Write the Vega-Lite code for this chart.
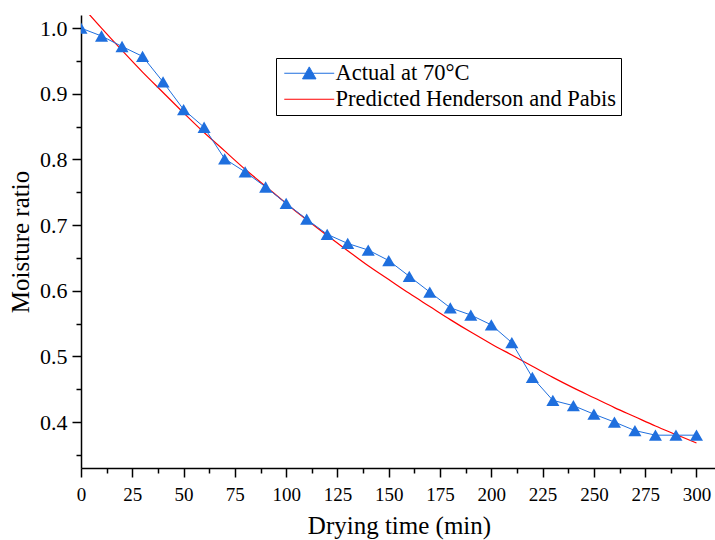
{
  "$schema": "https://vega.github.io/schema/vega-lite/v6.json",
  "width": 636,
  "height": 453,
  "autosize": {"type": "none"},
  "padding": {"left": 81, "top": 15, "right": 0, "bottom": 72},
  "background": "white",
  "config": {
    "view": {"stroke": null},
    "font": "Liberation Serif",
    "axis": {
      "grid": false,
      "domainColor": "black",
      "domainWidth": 1.5,
      "tickColor": "black",
      "tickWidth": 1.5,
      "labelColor": "black",
      "labelFont": "Liberation Serif",
      "labelFontSize": 19,
      "titleFont": "Liberation Serif",
      "titleFontSize": 25,
      "titleFontWeight": "normal",
      "titleColor": "black"
    }
  },
  "datasets": {
    "actual": [
      {"t": 0, "mr": 1.0, "series": "Actual at 70°C"},
      {"t": 10, "mr": 0.988, "series": "Actual at 70°C"},
      {"t": 20, "mr": 0.972, "series": "Actual at 70°C"},
      {"t": 30, "mr": 0.957, "series": "Actual at 70°C"},
      {"t": 40, "mr": 0.918, "series": "Actual at 70°C"},
      {"t": 50, "mr": 0.876, "series": "Actual at 70°C"},
      {"t": 60, "mr": 0.849, "series": "Actual at 70°C"},
      {"t": 70, "mr": 0.801, "series": "Actual at 70°C"},
      {"t": 80, "mr": 0.781, "series": "Actual at 70°C"},
      {"t": 90, "mr": 0.758, "series": "Actual at 70°C"},
      {"t": 100, "mr": 0.733, "series": "Actual at 70°C"},
      {"t": 110, "mr": 0.709, "series": "Actual at 70°C"},
      {"t": 120, "mr": 0.686, "series": "Actual at 70°C"},
      {"t": 130, "mr": 0.672, "series": "Actual at 70°C"},
      {"t": 140, "mr": 0.662, "series": "Actual at 70°C"},
      {"t": 150, "mr": 0.646, "series": "Actual at 70°C"},
      {"t": 160, "mr": 0.622, "series": "Actual at 70°C"},
      {"t": 170, "mr": 0.598, "series": "Actual at 70°C"},
      {"t": 180, "mr": 0.574, "series": "Actual at 70°C"},
      {"t": 190, "mr": 0.563, "series": "Actual at 70°C"},
      {"t": 200, "mr": 0.548, "series": "Actual at 70°C"},
      {"t": 210, "mr": 0.521, "series": "Actual at 70°C"},
      {"t": 220, "mr": 0.468, "series": "Actual at 70°C"},
      {"t": 230, "mr": 0.433, "series": "Actual at 70°C"},
      {"t": 240, "mr": 0.425, "series": "Actual at 70°C"},
      {"t": 250, "mr": 0.412, "series": "Actual at 70°C"},
      {"t": 260, "mr": 0.400, "series": "Actual at 70°C"},
      {"t": 270, "mr": 0.387, "series": "Actual at 70°C"},
      {"t": 280, "mr": 0.380, "series": "Actual at 70°C"},
      {"t": 290, "mr": 0.380, "series": "Actual at 70°C"},
      {"t": 300, "mr": 0.380, "series": "Actual at 70°C"}
    ],
    "predicted": [
      {"t": 0, "mr": 1.035, "series": "Predicted Henderson and Pabis"},
      {"t": 10, "mr": 1.000, "series": "Predicted Henderson and Pabis"},
      {"t": 20, "mr": 0.966, "series": "Predicted Henderson and Pabis"},
      {"t": 30, "mr": 0.933, "series": "Predicted Henderson and Pabis"},
      {"t": 40, "mr": 0.902, "series": "Predicted Henderson and Pabis"},
      {"t": 50, "mr": 0.871, "series": "Predicted Henderson and Pabis"},
      {"t": 60, "mr": 0.841, "series": "Predicted Henderson and Pabis"},
      {"t": 70, "mr": 0.813, "series": "Predicted Henderson and Pabis"},
      {"t": 80, "mr": 0.785, "series": "Predicted Henderson and Pabis"},
      {"t": 90, "mr": 0.759, "series": "Predicted Henderson and Pabis"},
      {"t": 100, "mr": 0.733, "series": "Predicted Henderson and Pabis"},
      {"t": 110, "mr": 0.708, "series": "Predicted Henderson and Pabis"},
      {"t": 120, "mr": 0.684, "series": "Predicted Henderson and Pabis"},
      {"t": 130, "mr": 0.661, "series": "Predicted Henderson and Pabis"},
      {"t": 140, "mr": 0.638, "series": "Predicted Henderson and Pabis"},
      {"t": 150, "mr": 0.617, "series": "Predicted Henderson and Pabis"},
      {"t": 160, "mr": 0.596, "series": "Predicted Henderson and Pabis"},
      {"t": 170, "mr": 0.576, "series": "Predicted Henderson and Pabis"},
      {"t": 180, "mr": 0.556, "series": "Predicted Henderson and Pabis"},
      {"t": 190, "mr": 0.537, "series": "Predicted Henderson and Pabis"},
      {"t": 200, "mr": 0.519, "series": "Predicted Henderson and Pabis"},
      {"t": 210, "mr": 0.502, "series": "Predicted Henderson and Pabis"},
      {"t": 220, "mr": 0.485, "series": "Predicted Henderson and Pabis"},
      {"t": 230, "mr": 0.468, "series": "Predicted Henderson and Pabis"},
      {"t": 240, "mr": 0.452, "series": "Predicted Henderson and Pabis"},
      {"t": 250, "mr": 0.437, "series": "Predicted Henderson and Pabis"},
      {"t": 260, "mr": 0.422, "series": "Predicted Henderson and Pabis"},
      {"t": 270, "mr": 0.408, "series": "Predicted Henderson and Pabis"},
      {"t": 280, "mr": 0.394, "series": "Predicted Henderson and Pabis"},
      {"t": 290, "mr": 0.381, "series": "Predicted Henderson and Pabis"},
      {"t": 300, "mr": 0.368, "series": "Predicted Henderson and Pabis"}
    ]
  },
  "encoding": {
    "x": {
      "field": "t",
      "type": "quantitative",
      "title": "Drying time (min)",
      "scale": {"domain": [0, 310], "nice": false, "zero": false},
      "axis": {
        "values": [0, 12.5, 25, 37.5, 50, 62.5, 75, 87.5, 100, 112.5, 125, 137.5, 150, 162.5, 175, 187.5, 200, 212.5, 225, 237.5, 250, 262.5, 275, 287.5, 300],
        "labelExpr": "datum.value % 25 === 0 ? datum.label : ''",
        "tickSize": {"condition": {"test": "datum.value % 25 === 0", "value": 9}, "value": 5},
        "labelPadding": 8,
        "titlePadding": 9,
        "labelFlush": false,
        "labelOverlap": false
      }
    },
    "y": {
      "field": "mr",
      "type": "quantitative",
      "title": "Moisture ratio",
      "scale": {"domain": [0.33, 1.02], "nice": false, "zero": false},
      "axis": {
        "values": [0.35, 0.4, 0.45, 0.5, 0.55, 0.6, 0.65, 0.7, 0.75, 0.8, 0.85, 0.9, 0.95, 1.0],
        "format": ".1f",
        "labelFontSize": 22,
        "labelExpr": "round(datum.value * 100) % 10 === 0 ? datum.label : ''",
        "tickSize": {"condition": {"test": "round(datum.value * 100) % 10 === 0", "value": 9}, "value": 5},
        "labelPadding": 5,
        "titlePadding": 6,
        "labelFlush": false,
        "labelOverlap": false
      }
    },
    "color": {
      "field": "series",
      "type": "nominal",
      "scale": {
        "domain": ["Actual at 70°C", "Predicted Henderson and Pabis"],
        "range": ["#1f6fde", "#ff0000"]
      },
      "legend": {
        "title": null,
        "orient": "none",
        "legendX": 195,
        "legendY": 43,
        "strokeColor": "black",
        "fillColor": "white",
        "padding": 4,
        "cornerRadius": 0,
        "labelFont": "Liberation Serif",
        "labelFontSize": 22.5,
        "labelColor": "black",
        "labelLimit": 0,
        "symbolSize": 225,
        "symbolOffset": 18,
        "labelOffset": 15,
        "rowPadding": 3,
        "symbolStrokeWidth": 1,
        "encode": {
          "symbols": {
            "update": {
              "shape": {"signal": "datum.value === 'Actual at 70°C' ? 'M-3.33,0L3.33,0M-0.9,0.75L0,-0.85L0.9,0.75Z' : 'M-3.33,0L3.33,0'"},
              "fill": {"signal": "datum.value === 'Actual at 70°C' ? '#1f6fde' : 'transparent'"},
              "stroke": {"signal": "datum.value === 'Actual at 70°C' ? '#1f6fde' : '#ff0000'"},
              "strokeWidth": {"value": 1},
              "opacity": {"value": 1}
            }
          }
        }
      }
    }
  },
  "layer": [
    {
      "data": {"name": "predicted"},
      "mark": {"type": "line", "strokeWidth": 1.2, "clip": true, "interpolate": "monotone"}
    },
    {
      "data": {"name": "actual"},
      "mark": {"type": "line", "strokeWidth": 1, "clip": true}
    },
    {
      "data": {"name": "actual"},
      "mark": {"type": "point", "shape": "triangle-up", "filled": true, "size": 170, "opacity": 1, "clip": true}
    }
  ]
}
